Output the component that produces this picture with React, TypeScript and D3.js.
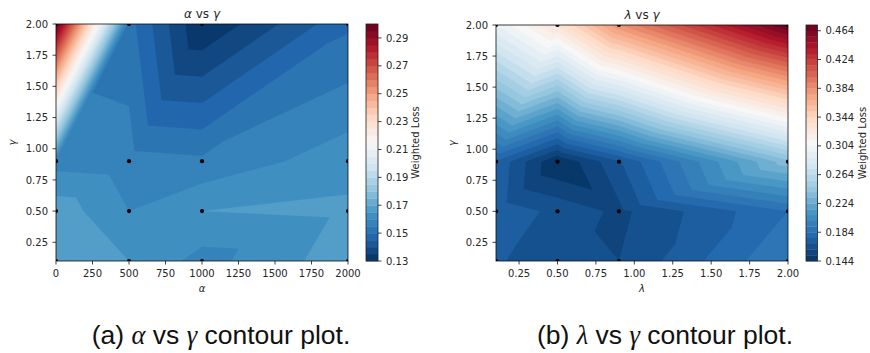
import React from 'react';
import * as d3 from 'd3';

// grid of the runs (black dots)
const alphaValues = [0, 500, 1000, 2000];
const lambdaValues = [0.1, 0.5, 0.9, 2.0];
const gammaValues = [0.1, 0.5, 0.9, 2.0];

// weighted loss, rows follow gammaValues (bottom to top), columns follow alpha / lambda
const lossAlphaGamma = [
  [0.168, 0.165, 0.158, 0.168],
  [0.168, 0.160, 0.165, 0.166],
  [0.158, 0.157, 0.156, 0.163],
  [0.300, 0.152, 0.130, 0.149],
];
const lossLambdaGamma = [
  [0.169, 0.163, 0.160, 0.192],
  [0.173, 0.166, 0.158, 0.184],
  [0.175, 0.144, 0.167, 0.237],
  [0.296, 0.330, 0.383, 0.472],
];

// how each grid cell is split in two triangles
// 1 = lower-left to upper-right, 0 = upper-left to lower-right
const splitAlphaGamma = [
  [0, 1, 1],
  [1, 1, 1],
  [1, 1, 1],
];
const splitLambdaGamma = [
  [1, 1, 1],
  [1, 0, 1],
  [1, 1, 1],
];

const alphaTicks = [0, 250, 500, 750, 1000, 1250, 1500, 1750, 2000];
const lambdaTicks = [0.25, 0.5, 0.75, 1.0, 1.25, 1.5, 1.75, 2.0];
const gammaTicks = [0.25, 0.5, 0.75, 1.0, 1.25, 1.5, 1.75, 2.0];

const cbarTicksAlpha = [0.13, 0.15, 0.17, 0.19, 0.21, 0.23, 0.25, 0.27, 0.29];
const cbarTicksLambda = [0.144, 0.184, 0.224, 0.264, 0.304, 0.344, 0.384, 0.424, 0.464];

const levelsAlpha = { min: 0.13, step: 0.005, count: 34 };
const levelsLambda = { min: 0.144, step: 0.008, count: 41 };

// matplotlib RdBu_r
const rdbuR = ['#053061', '#2166ac', '#4393c3', '#92c5de', '#d1e5f0', '#f7f7f7',
  '#fddbc7', '#f4a582', '#d6604d', '#b2182b', '#67001f'];
const cmap = d3.scaleLinear<string>()
  .domain(rdbuR.map((_, i) => i / (rdbuR.length - 1)))
  .range(rdbuR)
  .interpolate(d3.interpolateRgb);

const FONT = 'DejaVu Sans, sans-serif';
const TEXT = '#262626';

function interp(xs, ys, z, split, x, y) {
  const i = Math.max(0, Math.min(d3.bisectRight(xs, x) - 1, xs.length - 2));
  const j = Math.max(0, Math.min(d3.bisectRight(ys, y) - 1, ys.length - 2));
  const u = (x - xs[i]) / (xs[i + 1] - xs[i]);
  const w = (y - ys[j]) / (ys[j + 1] - ys[j]);
  const a = z[j][i], b = z[j][i + 1], c = z[j + 1][i], d = z[j + 1][i + 1];
  if (split[j][i] === 1) {
    if (u >= w) return a + u * (b - a) + w * (d - b);
    return a + w * (c - a) + u * (d - c);
  }
  if (u + w <= 1) return a + u * (b - a) + w * (c - a);
  return d + (1 - u) * (c - d) + (1 - w) * (b - d);
}

function Panel({ id, frame, xs, ys, z, split, xTicks, xFmt, levels, cbarTicks, cbarFmt, cbar, titleVar, labelOffset }) {
  const { left, top, width, height } = frame;
  const x = d3.scaleLinear().domain([xs[0], xs[xs.length - 1]]).range([left, left + width]);
  const y = d3.scaleLinear().domain([0.1, 2.0]).range([top + height, top]);

  const levelList = d3.range(levels.count + 1).map(k => levels.min + k * levels.step);
  const lo = levelList[0], hi = levelList[levelList.length - 1];
  const bandColor = (k) => cmap(((levelList[k] + levelList[k + 1]) / 2 - lo) / (hi - lo));

  const nx = Math.round(width * 2), ny = Math.round(height * 2);
  const values = new Float64Array(nx * ny);
  for (let j = 0; j < ny; j++) {
    const gy = y.invert(top + (j + 0.5) * height / ny);
    for (let i = 0; i < nx; i++) {
      const gx = x.invert(left + (i + 0.5) * width / nx);
      values[j * nx + i] = interp(xs, ys, z, split, gx, gy);
    }
  }
  const bands = d3.contours().size([nx, ny]).thresholds(levelList.slice(0, -1).map(t => t - 1e-9))(Array.from(values));
  const path = d3.geoPath();

  const cy = d3.scaleLinear().domain([lo, hi]).range([cbar.top + cbar.height, cbar.top]);
  const pts = [];
  ys.forEach(g => xs.forEach(v => pts.push([v, g])));

  return (
    <g>
      <defs>
        <clipPath id={id}>
          <rect x={left} y={top} width={width} height={height} />
        </clipPath>
      </defs>
      <g clipPath={`url(#${id})`}>
        <g transform={`translate(${left},${top}) scale(${width / nx},${height / ny})`}>
          {bands.map((b, k) => (
            <path key={k} d={path(b)} fill={bandColor(k)} stroke={bandColor(k)} strokeWidth={0.6} />
          ))}
        </g>
        {pts.map((p, k) => (
          <circle key={k} cx={x(p[0])} cy={y(p[1])} r={2.1} fill="#000" />
        ))}
      </g>
      <rect x={left} y={top} width={width} height={height} fill="none" stroke="#111" strokeWidth={0.8} />

      {xTicks.map(t => (
        <g key={t}>
          <line x1={x(t)} x2={x(t)} y1={top + height} y2={top + height + 3.5} stroke="#111" strokeWidth={0.8} />
          <text x={x(t)} y={top + height + 15.5} textAnchor="middle" fontSize={10} fill={TEXT} fontFamily={FONT}>{xFmt(t)}</text>
        </g>
      ))}
      {gammaTicks.map(t => (
        <g key={t}>
          <line x1={left - 3.5} x2={left} y1={y(t)} y2={y(t)} stroke="#111" strokeWidth={0.8} />
          <text x={left - 8} y={y(t)} dy="0.36em" textAnchor="end" fontSize={10} fill={TEXT} fontFamily={FONT}>{t.toFixed(2)}</text>
        </g>
      ))}
      <text x={left + width / 2} y={top + height + 31} textAnchor="middle" fontSize={10} fill={TEXT} fontFamily={FONT} fontStyle="italic">{titleVar}</text>
      <text transform={`translate(${left - 40},${top + height / 2}) rotate(-90)`} textAnchor="middle" fontSize={10} fill={TEXT} fontFamily={FONT} fontStyle="italic">γ</text>
      <text x={left + width / 2} y={top - 6} textAnchor="middle" fontSize={12} fill={TEXT} fontFamily={FONT}>
        <tspan fontStyle="italic">{titleVar}</tspan> vs <tspan fontStyle="italic">γ</tspan>
      </text>

      {levelList.slice(0, -1).map((t, k) => (
        <rect key={k} x={cbar.left} y={cy(levelList[k + 1])} width={cbar.width} height={cy(t) - cy(levelList[k + 1]) + 0.3} fill={bandColor(k)} />
      ))}
      <rect x={cbar.left} y={cbar.top} width={cbar.width} height={cbar.height} fill="none" stroke="#222" strokeWidth={0.8} />
      {cbarTicks.map(t => (
        <g key={t}>
          <line x1={cbar.left + cbar.width} x2={cbar.left + cbar.width + 3.5} y1={cy(t)} y2={cy(t)} stroke="#111" strokeWidth={0.8} />
          <text x={cbar.left + cbar.width + 8} y={cy(t)} dy="0.36em" fontSize={10} fill={TEXT} fontFamily={FONT}>{cbarFmt(t)}</text>
        </g>
      ))}
      <text transform={`translate(${cbar.left + cbar.width + labelOffset},${cbar.top + cbar.height / 2}) rotate(-90)`} textAnchor="middle" fontSize={10} fill={TEXT} fontFamily={FONT}>Weighted Loss</text>
    </g>
  );
}

function Caption({ cx, letter, v }) {
  return (
    <text x={cx} y={344} textAnchor="middle" fontSize={26.5} fill="#111" fontFamily="Liberation Sans, sans-serif">
      ({letter}) <tspan fontFamily="Liberation Serif, serif" fontStyle="italic">{v}</tspan> vs{' '}
      <tspan fontFamily="Liberation Serif, serif" fontStyle="italic">γ</tspan> contour plot.
    </text>
  );
}

export default function App() {
  return (
    <svg width={870} height={353} style={{ position: 'absolute', left: 0, top: 0, background: '#fff' }}>
      <Panel
        id="clipA"
        frame={{ left: 56, top: 24, width: 292, height: 237 }}
        xs={alphaValues} ys={gammaValues} z={lossAlphaGamma} split={splitAlphaGamma}
        xTicks={alphaTicks} xFmt={t => String(t)}
        levels={levelsAlpha} cbarTicks={cbarTicksAlpha} cbarFmt={t => t.toFixed(2)}
        cbar={{ left: 366, top: 24, width: 12, height: 237 }}
        titleVar="α" labelOffset={41}
      />
      <Panel
        id="clipB"
        frame={{ left: 496, top: 25, width: 292, height: 236 }}
        xs={lambdaValues} ys={gammaValues} z={lossLambdaGamma} split={splitLambdaGamma}
        xTicks={lambdaTicks} xFmt={t => t.toFixed(2)}
        levels={levelsLambda} cbarTicks={cbarTicksLambda} cbarFmt={t => t.toFixed(3)}
        cbar={{ left: 806, top: 25, width: 11.5, height: 236 }}
        titleVar="λ" labelOffset={48}
      />
      <Caption cx={221} letter="a" v="α" />
      <Caption cx={665} letter="b" v="λ" />
    </svg>
  );
}
